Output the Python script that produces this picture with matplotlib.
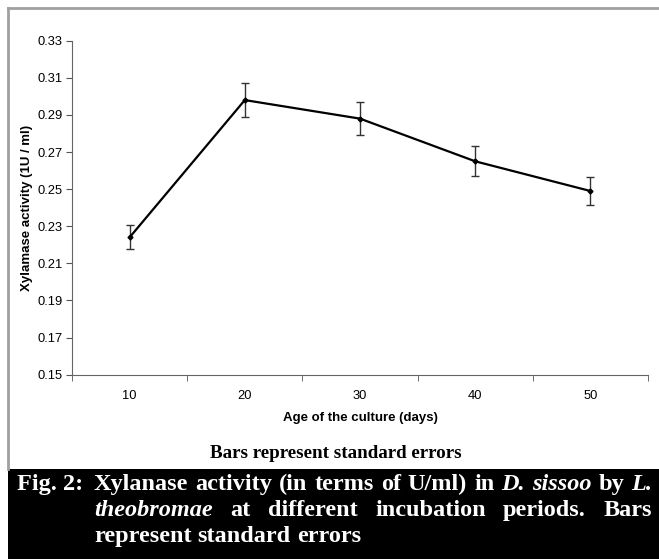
import matplotlib
matplotlib.use('Agg')
import matplotlib.pyplot as plt
from matplotlib.patches import Rectangle
from matplotlib.lines import Line2D

# data
days = ['10', '20', '30', '40', '50']
activity = [0.224, 0.298, 0.288, 0.265, 0.249]
std_err = [0.0065, 0.009, 0.0087, 0.008, 0.0076]
yticks = [0.15, 0.17, 0.19, 0.21, 0.23, 0.25, 0.27, 0.29, 0.31, 0.33]

W, H = 659, 559
plt.rcParams['font.family'] = 'Liberation Sans'
fig = plt.figure(figsize=(W / 100, H / 100), dpi=100)


def fx(px):
    return px / W


def fy(py):
    return 1 - py / H


ax = fig.add_axes([fx(72), fy(374.7), fx(648) - fx(72), fy(40.7) - fy(374.7)])
x = list(range(len(days)))
ax.errorbar(x, activity, yerr=std_err, color='black', lw=1.6, marker='D', ms=2.5,
            ecolor='#333333', elinewidth=1, capsize=3, capthick=1)
ax.set_xlim(-0.5, len(days) - 0.5)
ax.set_ylim(0.15, 0.33)
ax.set_yticks(yticks)
ax.set_yticklabels(['%.2f' % v for v in yticks], fontsize=9.3)
ax.set_xticks(x)
ax.set_xticklabels(days, fontsize=9.3)
ax.set_xticks([i - 0.5 for i in range(len(days) + 1)], minor=True)
ax.tick_params(axis='x', which='major', length=0, pad=11)
ax.tick_params(axis='x', which='minor', length=4, direction='out', color='#555555')
ax.tick_params(axis='y', length=4, direction='out', color='#555555', pad=3)
for s in ['top', 'right']:
    ax.spines[s].set_visible(False)
for s in ['left', 'bottom']:
    ax.spines[s].set_color('#666666')
ax.set_xlabel('Age of the culture (days)', fontsize=9.5, fontweight='bold', labelpad=7)
ax.set_ylabel('Xylamase activity (1U / ml)', fontsize=9.5, fontweight='bold', labelpad=3)

# panel border and caption box
fig.add_artist(Line2D([fx(8), fx(8)], [fy(8), fy(469)], color='#a0a0a0', lw=2))
fig.add_artist(Line2D([fx(8), 1], [fy(8), fy(8)], color='#a0a0a0', lw=2))
fig.add_artist(Rectangle((fx(8), 0), 1 - fx(8), fy(469), color='black', lw=0))

fig.text(fx(336), fy(458), 'Bars represent standard errors', fontsize=13.7,
         fontweight='bold', family='Liberation Serif', ha='center', va='baseline')

renderer = fig.canvas.get_renderer()
CAP = 17.5


def word_width(w, style):
    t = fig.text(0, 0, w, fontsize=CAP, fontweight='bold', family='Liberation Serif',
                 style=style)
    wd = t.get_window_extent(renderer).width
    t.remove()
    return wd


def put_line(words, x0, x1, base, justify=True):
    widths = [word_width(w, s) for w, s in words]
    if justify and len(words) > 1:
        gap = (x1 - x0 - sum(widths)) / (len(words) - 1)
    else:
        gap = word_width('a a', 'normal') - 2 * word_width('a', 'normal')
    xp = x0
    for (w, s), wd in zip(words, widths):
        fig.text(fx(xp), fy(base), w, fontsize=CAP, fontweight='bold',
                 family='Liberation Serif', style=s, color='white', va='baseline')
        xp += wd + gap


fig.text(fx(17), fy(490), 'Fig. 2:', fontsize=CAP, fontweight='bold',
         family='Liberation Serif', color='white', va='baseline')
n, i = 'normal', 'italic'
line1 = [('Xylanase', n), ('activity', n), ('(in', n), ('terms', n), ('of', n),
         ('U/ml)', n), ('in', n), ('D.', i), ('sissoo', i), ('by', n), ('L.', i)]
line2 = [('theobromae', i), ('at', n), ('different', n), ('incubation', n),
         ('periods.', n), ('Bars', n)]
line3 = [('represent', n), ('standard', n), ('errors', n)]
put_line(line1, 94, 652, 490)
put_line(line2, 94, 652, 516)
put_line(line3, 94, 652, 542, justify=False)

fig.savefig('out.png', dpi=100)
